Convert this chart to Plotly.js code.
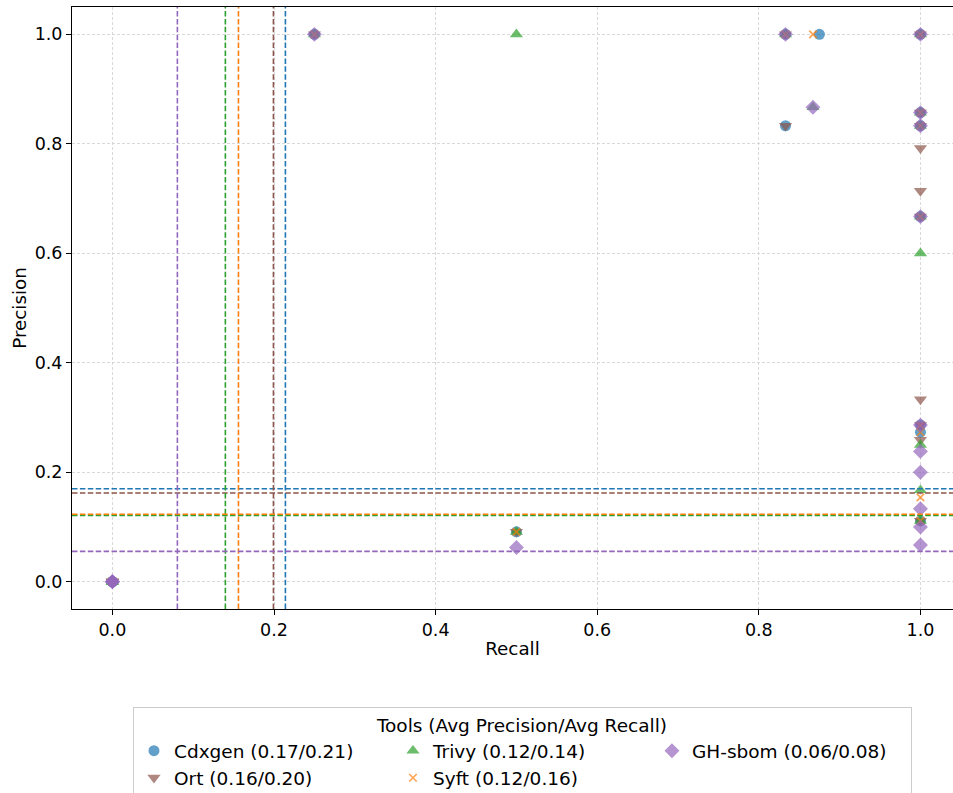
<!DOCTYPE html>
<html>
<head>
<meta charset="utf-8">
<script src="https://cdn.plot.ly/plotly-3.0.1.min.js"></script>
<style>html,body{margin:0;padding:0;background:#fff;}#chart{width:953px;height:793px;}</style>
</head>
<body>
<div id="chart"></div>
<script>
// ---- data ----
const tools = ['Cdxgen', 'Ort', 'Trivy', 'Syft', 'GH-sbom'];
const colors = ['#1f77b4', '#8c564b', '#2ca02c', '#ff7f0e', '#9467bd'];
const symbols = ['circle', 'triangle-down', 'triangle-up', 'x-thin', 'diamond'];
const legendRanks = [1, 4, 2, 5, 3];

const cdxgenRecall    = [0, 0, 0, 0.25, 0.5, 0.833, 0.833, 0.875, 1, 1, 1, 1, 1, 1, 1];
const cdxgenPrecision = [0, 0, 0, 1.0, 0.091, 1.0, 0.833, 1.0, 1.0, 0.857, 0.833, 0.667, 0.286, 0.273, 0.111];

const ortRecall    = [0, 0, 0, 0.25, 0.5, 0.833, 0.833, 1, 1, 1, 1, 1, 1, 1, 1, 1, 1];
const ortPrecision = [0, 0, 0, 1.0, 0.091, 1.0, 0.833, 1.0, 0.857, 0.833, 0.792, 0.714, 0.667, 0.333, 0.286, 0.259, 0.111];

const trivyRecall    = [0, 0, 0, 0.25, 0.5, 0.5, 0.833, 0.867, 1, 1, 1, 1, 1, 1, 1, 1];
const trivyPrecision = [0, 0, 0, 1.0, 1.0, 0.091, 1.0, 0.867, 1.0, 0.857, 0.833, 0.667, 0.6, 0.25, 0.167, 0.111];

const syftRecall    = [0, 0, 0, 0.25, 0.5, 0.833, 0.867, 1, 1, 1, 1, 1, 1, 1, 1];
const syftPrecision = [0, 0, 0, 1.0, 0.091, 1.0, 1.0, 1.0, 0.857, 0.833, 0.667, 0.286, 0.273, 0.154, 0.111];

const ghRecall    = [0, 0, 0, 0.25, 0.5, 0.833, 0.867, 1, 1, 1, 1, 1, 1, 1, 1, 1, 1];
const ghPrecision = [0, 0, 0, 1.0, 0.0625, 1.0, 0.867, 1.0, 0.857, 0.833, 0.667, 0.286, 0.238, 0.2, 0.133, 0.1, 0.067];

const avgPrecision = [0.1697, 0.162, 0.121, 0.123, 0.0553];
const avgRecall    = [0.2141, 0.1993, 0.1398, 0.156, 0.0804];

const tickVals = [0, 0.2, 0.4, 0.6, 0.8, 1.0];
const tickText = ['0.0', '0.2', '0.4', '0.6', '0.8', '1.0'];

// ---- build ----
const recalls = [cdxgenRecall, ortRecall, trivyRecall, syftRecall, ghRecall];
const precisions = [cdxgenPrecision, ortPrecision, trivyPrecision, syftPrecision, ghPrecision];
const markerSizes = [11, 11.5, 11.5, 7.5, 11.5];

const traces = tools.map((t, i) => ({
  type: 'scatter',
  mode: 'markers',
  x: recalls[i],
  y: precisions[i],
  name: t + ' (' + avgPrecision[i].toFixed(2) + '/' + avgRecall[i].toFixed(2) + ')',
  legendrank: legendRanks[i],
  marker: {
    symbol: symbols[i],
    size: markerSizes[i],
    color: colors[i],
    opacity: 0.7,
    line: symbols[i] === 'x-thin' ? {color: colors[i], width: 1.7} : {width: 0}
  },
  hoverinfo: 'skip'
}));

const shapes = [];
tools.forEach((t, i) => {
  shapes.push({type: 'line', xref: 'x', yref: 'paper', x0: avgRecall[i], x1: avgRecall[i], y0: 0, y1: 1,
    line: {color: colors[i], width: 1.6, dash: '5.5px,2.4px'}});
  shapes.push({type: 'line', xref: 'paper', yref: 'y', x0: 0, x1: 1, y0: avgPrecision[i], y1: avgPrecision[i],
    line: {color: colors[i], width: 1.6, dash: '5.5px,2.4px'}});
});

const font = {family: 'DejaVu Sans, sans-serif', color: '#000'};

const layout = {
  width: 953, height: 793,
  margin: {l: 72, r: 0, t: 7, b: 184, autoexpand: false},
  paper_bgcolor: '#fff', plot_bgcolor: '#fff',
  font: Object.assign({size: 17.5}, font),
  showlegend: true,
  xaxis: {
    range: [-0.05, 1.0403],
    tickvals: tickVals, ticktext: tickText,
    ticks: 'outside', ticklen: 5, tickwidth: 1, tickcolor: '#000',
    showline: true, linecolor: '#000', linewidth: 1, mirror: true,
    showgrid: true, gridcolor: '#d0d0d0', gridwidth: 0.8, griddash: '3px,2px',
    zeroline: false, automargin: false,
    tickfont: Object.assign({size: 17.5}, font),
    title: {text: 'Recall', font: Object.assign({size: 18.3}, font), standoff: 3}
  },
  yaxis: {
    range: [-0.05, 1.05],
    tickvals: tickVals, ticktext: tickText,
    ticks: 'outside', ticklen: 5, tickwidth: 1, tickcolor: '#000',
    showline: true, linecolor: '#000', linewidth: 1,
    showgrid: true, gridcolor: '#d0d0d0', gridwidth: 0.8, griddash: '3px,2px',
    zeroline: false, automargin: false,
    tickfont: Object.assign({size: 17.5}, font),
    title: {text: 'Precision', font: Object.assign({size: 18.3}, font), standoff: 3}
  },
  shapes: shapes,
  legend: {
    orientation: 'h',
    x: 0.0692, xanchor: 'left',
    y: -0.163, yanchor: 'top',
    bordercolor: '#cccccc', borderwidth: 1,
    bgcolor: 'rgba(255,255,255,0.8)',
    font: Object.assign({size: 18.5}, font),
    entrywidth: 214,
    traceorder: 'normal',
    title: {text: 'Tools (Avg Precision/Avg Recall)', side: 'top center', font: Object.assign({size: 18.5}, font)}
  }
};

Plotly.newPlot('chart', traces, layout, {staticPlot: true, displayModeBar: false});
</script>
</body>
</html>
